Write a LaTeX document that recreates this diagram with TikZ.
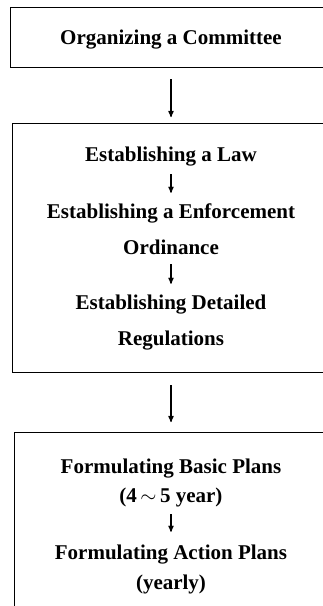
\documentclass[tikz,border=0pt]{standalone}
\usepackage{fontspec}
\setmainfont{Liberation Serif}
\usepackage{tikz}
\usetikzlibrary{arrows}
\usetikzlibrary{calc}
\tikzset{panel/.style={draw, line width=1.3pt, anchor=north west, inner sep=0pt}}
\tikzset{stage/.style={anchor=base, inner sep=0pt, text height=13pt, text depth=5pt,
  font=\fontsize{21}{24}\selectfont\bfseries}}
\tikzset{flow/.style={black, line width=1.2pt, ->, >=stealth'}}

\begin{document}
\begin{tikzpicture}[x=1pt,y=-1pt]
\useasboundingbox (0,0) rectangle (323,606);
\clip (0,0) rectangle (323,606);
% the three boxes, their right side runs off the page
\node[panel, minimum width=340pt, minimum height=60pt]  (cbox) at (10,7) {};
\node[panel, minimum width=340pt, minimum height=249pt] (lbox) at (12,123) {};
\node[panel, minimum width=340pt, minimum height=200pt] (pbox) at (14,432) {};
% texts
\node[stage] (org) at (171,44)  {Organizing a Committee};
\node[stage] (law) at (171,161) {Establishing a Law};
\node[stage] (enf) at (171,218) {Establishing a Enforcement};
\node[stage] (ord) at (171,254) {Ordinance};
\node[stage] (det) at (171,309) {Establishing Detailed};
\node[stage] (reg) at (171,345) {Regulations};
\node[stage] (bas) at (171,473) {Formulating Basic Plans};
\node[stage] (yrs) at (171,502) {(4\,$\sim$\,5 year)};
\node[stage] (act) at (171,559) {Formulating Action Plans};
\node[stage] (yly) at (171,589) {(yearly)};
% arrows between the boxes
\draw[flow, shorten <=11pt, shorten >=6pt] (cbox.south -| org) -- (lbox.north -| org);
\draw[flow, shorten <=12pt, shorten >=10pt] (lbox.south -| org) -- (pbox.north -| org);
% arrows inside the boxes
\draw[flow, shorten <=8pt, shorten >=12pt] (law) -- (enf);
\draw[flow, shorten <=5pt, shorten >=12pt] (ord) -- (det);
\draw[flow, shorten <=7pt, shorten >=14pt] (yrs) -- (act);
\end{tikzpicture}
\end{document}
